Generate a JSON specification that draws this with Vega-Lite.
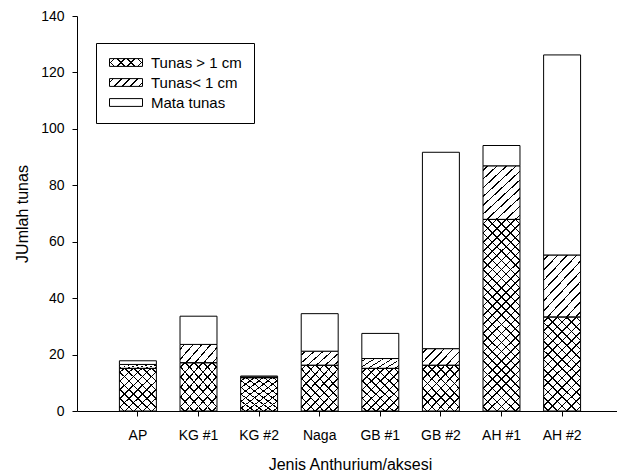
{
  "$schema": "https://vega.github.io/schema/vega-lite/v6.json",
  "width": 546,
  "height": 395,
  "autosize": {"type": "none"},
  "padding": {"left": 77, "top": 16, "right": -6, "bottom": 64},
  "background": "white",
  "config": {
    "view": {"stroke": null},
    "font": "Liberation Sans",
    "axis": {"grid": false, "labelColor": "black", "titleColor": "black", "tickColor": "black", "domainColor": "black", "labelFontSize": 14, "titleFontSize": 16, "titleFontWeight": "normal", "tickSize": 5}
  },
  "params": [
    {"name": "st4", "value": [
      {"offset":0.106,"color":"#0000"},{"offset":0.106,"color":"#000"},{"offset":0.144,"color":"#000"},{"offset":0.144,"color":"#0000"},
      {"offset":0.356,"color":"#0000"},{"offset":0.356,"color":"#000"},{"offset":0.394,"color":"#000"},{"offset":0.394,"color":"#0000"},
      {"offset":0.606,"color":"#0000"},{"offset":0.606,"color":"#000"},{"offset":0.644,"color":"#000"},{"offset":0.644,"color":"#0000"},
      {"offset":0.856,"color":"#0000"},{"offset":0.856,"color":"#000"},{"offset":0.894,"color":"#000"},{"offset":0.894,"color":"#0000"}]},
    {"name": "st5", "value": [
      {"offset":0.081,"color":"#0000"},{"offset":0.081,"color":"#000"},{"offset":0.119,"color":"#000"},{"offset":0.119,"color":"#0000"},
      {"offset":0.281,"color":"#0000"},{"offset":0.281,"color":"#000"},{"offset":0.319,"color":"#000"},{"offset":0.319,"color":"#0000"},
      {"offset":0.481,"color":"#0000"},{"offset":0.481,"color":"#000"},{"offset":0.519,"color":"#000"},{"offset":0.519,"color":"#0000"},
      {"offset":0.681,"color":"#0000"},{"offset":0.681,"color":"#000"},{"offset":0.719,"color":"#000"},{"offset":0.719,"color":"#0000"},
      {"offset":0.881,"color":"#0000"},{"offset":0.881,"color":"#000"},{"offset":0.919,"color":"#000"},{"offset":0.919,"color":"#0000"}]},
    {"name": "st6", "value": [
      {"offset":0.0693,"color":"#0000"},{"offset":0.0693,"color":"#000"},{"offset":0.0973,"color":"#000"},{"offset":0.0973,"color":"#0000"},
      {"offset":0.236,"color":"#0000"},{"offset":0.236,"color":"#000"},{"offset":0.264,"color":"#000"},{"offset":0.264,"color":"#0000"},
      {"offset":0.4027,"color":"#0000"},{"offset":0.4027,"color":"#000"},{"offset":0.4307,"color":"#000"},{"offset":0.4307,"color":"#0000"},
      {"offset":0.5693,"color":"#0000"},{"offset":0.5693,"color":"#000"},{"offset":0.5973,"color":"#000"},{"offset":0.5973,"color":"#0000"},
      {"offset":0.736,"color":"#0000"},{"offset":0.736,"color":"#000"},{"offset":0.764,"color":"#000"},{"offset":0.764,"color":"#0000"},
      {"offset":0.9027,"color":"#0000"},{"offset":0.9027,"color":"#000"},{"offset":0.9307,"color":"#000"},{"offset":0.9307,"color":"#0000"}]},
    {"name": "st9", "value": [
      {"offset":0.0461,"color":"#0000"},{"offset":0.0461,"color":"#000"},{"offset":0.0651,"color":"#000"},{"offset":0.0651,"color":"#0000"},
      {"offset":0.1572,"color":"#0000"},{"offset":0.1572,"color":"#000"},{"offset":0.1762,"color":"#000"},{"offset":0.1762,"color":"#0000"},
      {"offset":0.2683,"color":"#0000"},{"offset":0.2683,"color":"#000"},{"offset":0.2873,"color":"#000"},{"offset":0.2873,"color":"#0000"},
      {"offset":0.3794,"color":"#0000"},{"offset":0.3794,"color":"#000"},{"offset":0.3984,"color":"#000"},{"offset":0.3984,"color":"#0000"},
      {"offset":0.4905,"color":"#0000"},{"offset":0.4905,"color":"#000"},{"offset":0.5095,"color":"#000"},{"offset":0.5095,"color":"#0000"},
      {"offset":0.6016,"color":"#0000"},{"offset":0.6016,"color":"#000"},{"offset":0.6206,"color":"#000"},{"offset":0.6206,"color":"#0000"},
      {"offset":0.7127,"color":"#0000"},{"offset":0.7127,"color":"#000"},{"offset":0.7317,"color":"#000"},{"offset":0.7317,"color":"#0000"},
      {"offset":0.8238,"color":"#0000"},{"offset":0.8238,"color":"#000"},{"offset":0.8428,"color":"#000"},{"offset":0.8428,"color":"#0000"},
      {"offset":0.9349,"color":"#0000"},{"offset":0.9349,"color":"#000"},{"offset":0.9539,"color":"#000"},{"offset":0.9539,"color":"#0000"}]},
    {"name": "st10", "value": [
      {"offset":0.0415,"color":"#0000"},{"offset":0.0415,"color":"#000"},{"offset":0.0585,"color":"#000"},{"offset":0.0585,"color":"#0000"},
      {"offset":0.1415,"color":"#0000"},{"offset":0.1415,"color":"#000"},{"offset":0.1585,"color":"#000"},{"offset":0.1585,"color":"#0000"},
      {"offset":0.2415,"color":"#0000"},{"offset":0.2415,"color":"#000"},{"offset":0.2585,"color":"#000"},{"offset":0.2585,"color":"#0000"},
      {"offset":0.3415,"color":"#0000"},{"offset":0.3415,"color":"#000"},{"offset":0.3585,"color":"#000"},{"offset":0.3585,"color":"#0000"},
      {"offset":0.4415,"color":"#0000"},{"offset":0.4415,"color":"#000"},{"offset":0.4585,"color":"#000"},{"offset":0.4585,"color":"#0000"},
      {"offset":0.5415,"color":"#0000"},{"offset":0.5415,"color":"#000"},{"offset":0.5585,"color":"#000"},{"offset":0.5585,"color":"#0000"},
      {"offset":0.6415,"color":"#0000"},{"offset":0.6415,"color":"#000"},{"offset":0.6585,"color":"#000"},{"offset":0.6585,"color":"#0000"},
      {"offset":0.7415,"color":"#0000"},{"offset":0.7415,"color":"#000"},{"offset":0.7585,"color":"#000"},{"offset":0.7585,"color":"#0000"},
      {"offset":0.8415,"color":"#0000"},{"offset":0.8415,"color":"#000"},{"offset":0.8585,"color":"#000"},{"offset":0.8585,"color":"#0000"},
      {"offset":0.9415,"color":"#0000"},{"offset":0.9415,"color":"#000"},{"offset":0.9585,"color":"#000"},{"offset":0.9585,"color":"#0000"}]},
    {"name": "st14", "value": [
      {"offset":0.0297,"color":"#0000"},{"offset":0.0297,"color":"#000"},{"offset":0.0417,"color":"#000"},{"offset":0.0417,"color":"#0000"},
      {"offset":0.1011,"color":"#0000"},{"offset":0.1011,"color":"#000"},{"offset":0.1131,"color":"#000"},{"offset":0.1131,"color":"#0000"},
      {"offset":0.1726,"color":"#0000"},{"offset":0.1726,"color":"#000"},{"offset":0.1846,"color":"#000"},{"offset":0.1846,"color":"#0000"},
      {"offset":0.244,"color":"#0000"},{"offset":0.244,"color":"#000"},{"offset":0.256,"color":"#000"},{"offset":0.256,"color":"#0000"},
      {"offset":0.3154,"color":"#0000"},{"offset":0.3154,"color":"#000"},{"offset":0.3274,"color":"#000"},{"offset":0.3274,"color":"#0000"},
      {"offset":0.3869,"color":"#0000"},{"offset":0.3869,"color":"#000"},{"offset":0.3989,"color":"#000"},{"offset":0.3989,"color":"#0000"},
      {"offset":0.4583,"color":"#0000"},{"offset":0.4583,"color":"#000"},{"offset":0.4703,"color":"#000"},{"offset":0.4703,"color":"#0000"},
      {"offset":0.5297,"color":"#0000"},{"offset":0.5297,"color":"#000"},{"offset":0.5417,"color":"#000"},{"offset":0.5417,"color":"#0000"},
      {"offset":0.6011,"color":"#0000"},{"offset":0.6011,"color":"#000"},{"offset":0.6131,"color":"#000"},{"offset":0.6131,"color":"#0000"},
      {"offset":0.6726,"color":"#0000"},{"offset":0.6726,"color":"#000"},{"offset":0.6846,"color":"#000"},{"offset":0.6846,"color":"#0000"},
      {"offset":0.744,"color":"#0000"},{"offset":0.744,"color":"#000"},{"offset":0.756,"color":"#000"},{"offset":0.756,"color":"#0000"},
      {"offset":0.8154,"color":"#0000"},{"offset":0.8154,"color":"#000"},{"offset":0.8274,"color":"#000"},{"offset":0.8274,"color":"#0000"},
      {"offset":0.8869,"color":"#0000"},{"offset":0.8869,"color":"#000"},{"offset":0.8989,"color":"#000"},{"offset":0.8989,"color":"#0000"},
      {"offset":0.9583,"color":"#0000"},{"offset":0.9583,"color":"#000"},{"offset":0.9703,"color":"#000"},{"offset":0.9703,"color":"#0000"}]},
    {"name": "st25", "value": [
      {"offset":0.0166,"color":"#0000"},{"offset":0.0166,"color":"#000"},{"offset":0.0234,"color":"#000"},{"offset":0.0234,"color":"#0000"},
      {"offset":0.0566,"color":"#0000"},{"offset":0.0566,"color":"#000"},{"offset":0.0634,"color":"#000"},{"offset":0.0634,"color":"#0000"},
      {"offset":0.0966,"color":"#0000"},{"offset":0.0966,"color":"#000"},{"offset":0.1034,"color":"#000"},{"offset":0.1034,"color":"#0000"},
      {"offset":0.1366,"color":"#0000"},{"offset":0.1366,"color":"#000"},{"offset":0.1434,"color":"#000"},{"offset":0.1434,"color":"#0000"},
      {"offset":0.1766,"color":"#0000"},{"offset":0.1766,"color":"#000"},{"offset":0.1834,"color":"#000"},{"offset":0.1834,"color":"#0000"},
      {"offset":0.2166,"color":"#0000"},{"offset":0.2166,"color":"#000"},{"offset":0.2234,"color":"#000"},{"offset":0.2234,"color":"#0000"},
      {"offset":0.2566,"color":"#0000"},{"offset":0.2566,"color":"#000"},{"offset":0.2634,"color":"#000"},{"offset":0.2634,"color":"#0000"},
      {"offset":0.2966,"color":"#0000"},{"offset":0.2966,"color":"#000"},{"offset":0.3034,"color":"#000"},{"offset":0.3034,"color":"#0000"},
      {"offset":0.3366,"color":"#0000"},{"offset":0.3366,"color":"#000"},{"offset":0.3434,"color":"#000"},{"offset":0.3434,"color":"#0000"},
      {"offset":0.3766,"color":"#0000"},{"offset":0.3766,"color":"#000"},{"offset":0.3834,"color":"#000"},{"offset":0.3834,"color":"#0000"},
      {"offset":0.4166,"color":"#0000"},{"offset":0.4166,"color":"#000"},{"offset":0.4234,"color":"#000"},{"offset":0.4234,"color":"#0000"},
      {"offset":0.4566,"color":"#0000"},{"offset":0.4566,"color":"#000"},{"offset":0.4634,"color":"#000"},{"offset":0.4634,"color":"#0000"},
      {"offset":0.4966,"color":"#0000"},{"offset":0.4966,"color":"#000"},{"offset":0.5034,"color":"#000"},{"offset":0.5034,"color":"#0000"},
      {"offset":0.5366,"color":"#0000"},{"offset":0.5366,"color":"#000"},{"offset":0.5434,"color":"#000"},{"offset":0.5434,"color":"#0000"},
      {"offset":0.5766,"color":"#0000"},{"offset":0.5766,"color":"#000"},{"offset":0.5834,"color":"#000"},{"offset":0.5834,"color":"#0000"},
      {"offset":0.6166,"color":"#0000"},{"offset":0.6166,"color":"#000"},{"offset":0.6234,"color":"#000"},{"offset":0.6234,"color":"#0000"},
      {"offset":0.6566,"color":"#0000"},{"offset":0.6566,"color":"#000"},{"offset":0.6634,"color":"#000"},{"offset":0.6634,"color":"#0000"},
      {"offset":0.6966,"color":"#0000"},{"offset":0.6966,"color":"#000"},{"offset":0.7034,"color":"#000"},{"offset":0.7034,"color":"#0000"},
      {"offset":0.7366,"color":"#0000"},{"offset":0.7366,"color":"#000"},{"offset":0.7434,"color":"#000"},{"offset":0.7434,"color":"#0000"},
      {"offset":0.7766,"color":"#0000"},{"offset":0.7766,"color":"#000"},{"offset":0.7834,"color":"#000"},{"offset":0.7834,"color":"#0000"},
      {"offset":0.8166,"color":"#0000"},{"offset":0.8166,"color":"#000"},{"offset":0.8234,"color":"#000"},{"offset":0.8234,"color":"#0000"},
      {"offset":0.8566,"color":"#0000"},{"offset":0.8566,"color":"#000"},{"offset":0.8634,"color":"#000"},{"offset":0.8634,"color":"#0000"},
      {"offset":0.8966,"color":"#0000"},{"offset":0.8966,"color":"#000"},{"offset":0.9034,"color":"#000"},{"offset":0.9034,"color":"#0000"},
      {"offset":0.9366,"color":"#0000"},{"offset":0.9366,"color":"#000"},{"offset":0.9434,"color":"#000"},{"offset":0.9434,"color":"#0000"},
      {"offset":0.9766,"color":"#0000"},{"offset":0.9766,"color":"#000"},{"offset":0.9834,"color":"#000"},{"offset":0.9834,"color":"#0000"}]},
    {"name": "gC1A", "expr": "{gradient: 'linear', x1: 0, y1: 0, x2: 0.907, y2: 1.078, stops: st9}"},
    {"name": "gC1B", "expr": "{gradient: 'linear', x1: 1, y1: 0, x2: 0.093, y2: 1.078, stops: st9}"},
    {"name": "gC2A", "expr": "{gradient: 'linear', x1: 0, y1: 0, x2: 0.47, y2: 1.207, stops: st14}"},
    {"name": "gC2B", "expr": "{gradient: 'linear', x1: 1, y1: 0, x2: 0.53, y2: 1.207, stops: st14}"},
    {"name": "gC3A", "expr": "{gradient: 'linear', x1: 0, y1: 0, x2: 0.2203, y2: 1.149, stops: st25}"},
    {"name": "gC3B", "expr": "{gradient: 'linear', x1: 1, y1: 0, x2: 0.7797, y2: 1.149, stops: st25}"},
    {"name": "gH1", "expr": "{gradient: 'linear', x1: 0, y1: 0, x2: 1.207, y2: 0.521, stops: st6}"},
    {"name": "gH2", "expr": "{gradient: 'linear', x1: 0, y1: 0, x2: 0.743, y2: 1.164, stops: st10}"},
    {"name": "gLCA", "expr": "{gradient: 'linear', x1: 0, y1: 0, x2: 1.171, y2: 0.276, stops: st4}"},
    {"name": "gLCB", "expr": "{gradient: 'linear', x1: 1, y1: 0, x2: -0.171, y2: 0.276, stops: st4}"},
    {"name": "gLH", "expr": "{gradient: 'linear', x1: 0, y1: 0, x2: 1.171, y2: 0.276, stops: st5}"}
  ],
  "data": {
    "values": [
      {"g": "AP", "cat": "Tunas > 1 cm", "v": 15.1},
      {"g": "AP", "cat": "Tunas< 1 cm", "v": 1.4},
      {"g": "AP", "cat": "Mata tunas", "v": 1.3},
      {"g": "KG #1", "cat": "Tunas > 1 cm", "v": 17.1},
      {"g": "KG #1", "cat": "Tunas< 1 cm", "v": 6.5},
      {"g": "KG #1", "cat": "Mata tunas", "v": 10.0},
      {"g": "KG #2", "cat": "Tunas > 1 cm", "v": 11.8},
      {"g": "KG #2", "cat": "Tunas< 1 cm", "v": 0.3},
      {"g": "KG #2", "cat": "Mata tunas", "v": 0.3},
      {"g": "Naga", "cat": "Tunas > 1 cm", "v": 16.2},
      {"g": "Naga", "cat": "Tunas< 1 cm", "v": 5.0},
      {"g": "Naga", "cat": "Mata tunas", "v": 13.3},
      {"g": "GB #1", "cat": "Tunas > 1 cm", "v": 15.1},
      {"g": "GB #1", "cat": "Tunas< 1 cm", "v": 3.5},
      {"g": "GB #1", "cat": "Mata tunas", "v": 8.9},
      {"g": "GB #2", "cat": "Tunas > 1 cm", "v": 16.2},
      {"g": "GB #2", "cat": "Tunas< 1 cm", "v": 5.9},
      {"g": "GB #2", "cat": "Mata tunas", "v": 69.6},
      {"g": "AH #1", "cat": "Tunas > 1 cm", "v": 67.9},
      {"g": "AH #1", "cat": "Tunas< 1 cm", "v": 19.0},
      {"g": "AH #1", "cat": "Mata tunas", "v": 7.2},
      {"g": "AH #2", "cat": "Tunas > 1 cm", "v": 33.3},
      {"g": "AH #2", "cat": "Tunas< 1 cm", "v": 22.0},
      {"g": "AH #2", "cat": "Mata tunas", "v": 70.9}
    ]
  },
  "transform": [
    {"calculate": "indexof(['Tunas > 1 cm', 'Tunas< 1 cm', 'Mata tunas'], datum.cat)", "as": "o"},
    {"stack": "v", "groupby": ["g"], "sort": [{"field": "o", "order": "ascending"}], "as": ["y0", "y1"]}
  ],
  "encoding": {
    "x": {
      "field": "g", "type": "nominal",
      "sort": ["AP", "KG #1", "KG #2", "Naga", "GB #1", "GB #2", "AH #1", "AH #2"],
      "scale": {"paddingInner": 0.39, "paddingOuter": 0.7},
      "axis": {"title": "Jenis Anthurium/aksesi", "labelAngle": 0, "labelPadding": 12, "titlePadding": 14}
    },
    "y": {
      "field": "y1", "type": "quantitative",
      "scale": {"domain": [0, 140], "nice": false},
      "axis": {"title": "JUmlah tunas", "values": [0, 20, 40, 60, 80, 100, 120, 140], "labelPadding": 8, "titlePadding": 10}
    },
    "y2": {"field": "y0"}
  },
  "layer": [
    {
      "mark": {"type": "bar", "stroke": "black", "strokeWidth": 1},
      "encoding": {
        "fill": {"value": {"expr": "datum.cat === 'Tunas > 1 cm' ? (datum.v > 50 ? gC3A : (datum.v > 25 ? gC2A : gC1A)) : (datum.cat === 'Tunas< 1 cm' ? (datum.v > 12 ? gH2 : gH1) : 'white')"}}
      }
    },
    {
      "transform": [{"filter": "datum.cat === 'Tunas > 1 cm'"}],
      "mark": {"type": "bar", "stroke": null},
      "encoding": {
        "fill": {"value": {"expr": "datum.v > 50 ? gC3B : (datum.v > 25 ? gC2B : gC1B)"}}
      }
    },
    {
      "transform": [{"filter": "false"}],
      "mark": {"type": "bar", "stroke": "black", "strokeWidth": 1},
      "encoding": {
        "fill": {
          "field": "cat", "type": "nominal",
          "scale": {"domain": ["Tunas > 1 cm", "Tunas< 1 cm", "Mata tunas"], "range": [{"expr": "gLCA"}, {"expr": "gLH"}, "white"]},
          "legend": {"orient": "none", "legendX": 19, "legendY": 27, "title": null, "padding": 12, "strokeColor": "black",
            "symbolType": "M-1,-0.65H4.5V0.65H-1Z", "symbolSize": 144, "symbolStrokeColor": "black", "symbolStrokeWidth": 1,
            "labelOffset": 28, "rowPadding": 4, "labelFontSize": 15, "labelColor": "black"}
        }
      }
    },
    {
      "transform": [{"filter": "false"}],
      "mark": {"type": "bar", "stroke": null},
      "encoding": {
        "fill": {
          "field": "cat", "type": "nominal",
          "scale": {"domain": ["Tunas > 1 cm", "Tunas< 1 cm", "Mata tunas"], "range": [{"expr": "gLCB"}, "transparent", "transparent"]},
          "legend": {"orient": "none", "legendX": 19, "legendY": 27, "title": null, "padding": 12,
            "symbolType": "M-1,-0.65H4.5V0.65H-1Z", "symbolSize": 144, "symbolStrokeWidth": 0,
            "labelOffset": 28, "rowPadding": 4, "labelFontSize": 15, "labelOpacity": 0}
        }
      }
    }
  ],
  "resolve": {"scale": {"fill": "independent"}, "legend": {"fill": "independent"}}
}
